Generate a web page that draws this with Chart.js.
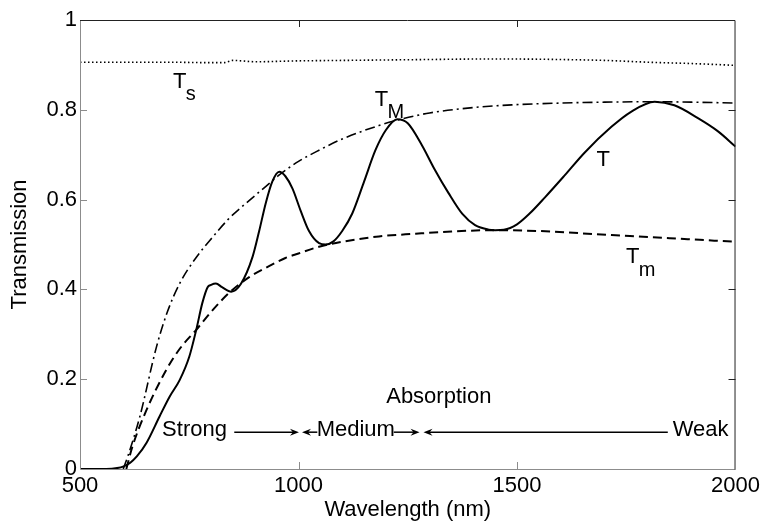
<!DOCTYPE html>
<html>
<head>
<meta charset="utf-8">
<script src="https://cdn.jsdelivr.net/npm/chart.js@4/dist/chart.umd.min.js"></script>
<style>
  html, body { margin: 0; padding: 0; background: #fff; }
  #wrap { width: 764px; height: 523px; }
</style>
</head>
<body>
<div id="wrap"><canvas id="myChart" width="764" height="523"></canvas></div>
<script>
// measured transmission T
var tWl = [500, 560, 585, 600, 615, 630, 652, 682, 705, 728, 750, 766, 780, 792, 800, 811, 825, 846, 868, 895, 910, 925, 940, 956, 970, 986, 1005, 1024, 1047, 1062, 1080, 1100, 1123, 1150, 1176, 1200, 1226, 1250, 1283, 1310, 1343, 1375, 1404, 1435, 1450, 1470, 1500, 1530, 1564, 1610, 1655, 1716, 1760, 1815, 1860, 1913, 1960, 2000];
var tVal = [0, 0, 0.002, 0.006, 0.014, 0.028, 0.058, 0.117, 0.161, 0.198, 0.25, 0.31, 0.37, 0.405, 0.41, 0.413, 0.405, 0.395, 0.412, 0.473, 0.53, 0.592, 0.64, 0.662, 0.652, 0.625, 0.575, 0.53, 0.503, 0.5, 0.507, 0.53, 0.569, 0.64, 0.71, 0.755, 0.779, 0.77, 0.72, 0.67, 0.615, 0.568, 0.543, 0.533, 0.532, 0.533, 0.545, 0.57, 0.605, 0.655, 0.705, 0.762, 0.795, 0.818, 0.81, 0.782, 0.752, 0.718];

// upper envelope T_M
var tMaxWl = [599, 610, 637, 675, 700, 728, 765, 804, 840, 880, 920, 956, 1000, 1047, 1100, 1184, 1230, 1300, 1400, 1488, 1600, 1700, 1815, 1900, 2000];
var tMaxVal = [0, 0.03, 0.117, 0.272, 0.35, 0.413, 0.47, 0.517, 0.557, 0.592, 0.625, 0.655, 0.685, 0.71, 0.735, 0.765, 0.778, 0.793, 0.805, 0.811, 0.815, 0.817, 0.818, 0.817, 0.815];

// lower envelope T_m
var tMinWl = [606, 620, 652, 697, 730, 766, 800, 842, 888, 925, 970, 1000, 1047, 1100, 1184, 1268, 1350, 1450, 1550, 1716, 1850, 2000];
var tMinVal = [0, 0.05, 0.131, 0.22, 0.27, 0.31, 0.35, 0.393, 0.428, 0.448, 0.47, 0.48, 0.495, 0.506, 0.518, 0.524, 0.529, 0.532, 0.53, 0.521, 0.514, 0.506];

// substrate T_s
var tsWl = [500, 600, 700, 800, 830, 850, 870, 900, 1000, 1100, 1200, 1300, 1400, 1500, 1600, 1700, 1800, 1900, 2000];
var tsVal = [0.906, 0.906, 0.906, 0.905, 0.905, 0.91, 0.909, 0.907, 0.909, 0.91, 0.911, 0.912, 0.913, 0.913, 0.912, 0.91, 0.906, 0.903, 0.899];

var xTicks = [500, 1000, 1500, 2000];
var yTicks = [0, 0.2, 0.4, 0.6, 0.8, 1];

// curve labels: [main, subscript, x, y]
var curveLabels = [
  ['T', 's', 728, 0.862],
  ['T', 'M', 1190, 0.822],
  ['T', '', 1697, 0.688],
  ['T', 'm', 1765, 0.472]
];
// absorption region labels
var regionLabels = [
  ['Absorption', 1321, 0.160],
  ['Strong', 762, 0.087],
  ['Medium', 1131, 0.087],
  ['Weak', 1920, 0.087]
];
var arrowY = 0.082;
// [from, to] : arrow head sits at "to"
var arrows = [[853, 1001], [1043, 1008], [1218, 1277], [1845, 1286]];

function pts(xs, ys) {
  return xs.map(function (x, i) { return {x: x, y: ys[i]}; });
}

var FONT = '"Liberation Sans", Arial, sans-serif';

var framePlugin = {
  id: 'frame',
  afterDatasetsDraw: function (chart) {
    var ctx = chart.ctx, a = chart.chartArea;
    var xs = chart.scales.x, ys = chart.scales.y;
    ctx.save();
    ctx.lineWidth = 1;
    // left / bottom grey, top / right dark
    ctx.strokeStyle = '#8c8c8c';
    ctx.beginPath();
    ctx.moveTo(a.left + 0.5, a.top); ctx.lineTo(a.left + 0.5, a.bottom + 0.5);
    ctx.lineTo(a.right, a.bottom + 0.5);
    ctx.stroke();
    ctx.strokeStyle = '#222';
    ctx.beginPath();
    ctx.moveTo(a.left, a.top + 0.5); ctx.lineTo(a.right - 0.5, a.top + 0.5);
    ctx.lineTo(a.right - 0.5, a.bottom + 0.5);
    ctx.stroke();
    // inward ticks
    var tl = 7;
    xTicks.slice(1, -1).forEach(function (v) {
      var px = Math.round(xs.getPixelForValue(v)) + 0.5;
      ctx.strokeStyle = '#8c8c8c';
      ctx.beginPath(); ctx.moveTo(px, a.bottom); ctx.lineTo(px, a.bottom - tl); ctx.stroke();
      ctx.strokeStyle = '#222';
      ctx.beginPath(); ctx.moveTo(px, a.top); ctx.lineTo(px, a.top + tl); ctx.stroke();
    });
    yTicks.slice(1, -1).forEach(function (v) {
      var py = Math.round(ys.getPixelForValue(v)) + 0.5;
      ctx.strokeStyle = '#8c8c8c';
      ctx.beginPath(); ctx.moveTo(a.left, py); ctx.lineTo(a.left + tl, py); ctx.stroke();
      ctx.strokeStyle = '#222';
      ctx.beginPath(); ctx.moveTo(a.right, py); ctx.lineTo(a.right - tl, py); ctx.stroke();
    });

    // labels
    ctx.fillStyle = '#000';
    ctx.textBaseline = 'middle';
    curveLabels.forEach(function (l) {
      var px = xs.getPixelForValue(l[2]), py = ys.getPixelForValue(l[3]);
      ctx.font = '22px ' + FONT;
      ctx.textAlign = 'center';
      ctx.fillText(l[0], px, py);
      if (l[1]) {
        ctx.font = '20px ' + FONT;
        ctx.textAlign = 'left';
        ctx.fillText(l[1], px + 6, py + 13);
      }
    });
    ctx.font = '22px ' + FONT;
    ctx.textAlign = 'center';
    regionLabels.forEach(function (l) {
      ctx.fillText(l[0], xs.getPixelForValue(l[1]), ys.getPixelForValue(l[2]));
    });

    // arrows
    ctx.strokeStyle = '#000';
    ctx.fillStyle = '#000';
    ctx.lineWidth = 1.5;
    var ay = ys.getPixelForValue(arrowY);
    arrows.forEach(function (ar) {
      var x0 = xs.getPixelForValue(ar[0]), x1 = xs.getPixelForValue(ar[1]);
      var dir = x1 > x0 ? 1 : -1;
      ctx.beginPath(); ctx.moveTo(x0, ay); ctx.lineTo(x1 - dir * 4, ay); ctx.stroke();
      ctx.beginPath();
      ctx.moveTo(x1, ay);
      ctx.lineTo(x1 - dir * 9, ay - 3.5);
      ctx.lineTo(x1 - dir * 6, ay);
      ctx.lineTo(x1 - dir * 9, ay + 3.5);
      ctx.closePath();
      ctx.fill();
    });
    ctx.restore();
  }
};

function loadChart() {
  var ctx = document.getElementById('myChart').getContext('2d');
  var base = {
    borderColor: '#000',
    pointRadius: 0,
    fill: false,
    cubicInterpolationMode: 'monotone'
  };
  new Chart(ctx, {
    type: 'line',
    data: {
      datasets: [
        Object.assign({label: 'Ts', data: pts(tsWl, tsVal), borderWidth: 1.6, borderDash: [1.5, 2.5]}, base),
        Object.assign({label: 'TM', data: pts(tMaxWl, tMaxVal), borderWidth: 1.6, borderDash: [10, 4, 2, 4]}, base),
        Object.assign({label: 'Tm', data: pts(tMinWl, tMinVal), borderWidth: 2, borderDash: [9, 5]}, base),
        Object.assign({label: 'T', data: pts(tWl, tVal), borderWidth: 2}, base)
      ]
    },
    options: {
      responsive: false,
      animation: false,
      layout: { padding: { top: 20, right: 26, left: 0, bottom: 0 } },
      plugins: { legend: { display: false }, tooltip: { enabled: false } },
      scales: {
        x: {
          type: 'linear',
          min: 500, max: 2000,
          afterBuildTicks: function (s) { s.ticks = xTicks.map(function (v) { return {value: v}; }); },
          afterFit: function (s) { s.height = 54; },
          grid: { drawOnChartArea: false, drawTicks: false },
          border: { display: false },
          ticks: {
            color: '#000', padding: 4, maxRotation: 0,
            font: { family: FONT, size: 22 },
            callback: function (v) { return String(v); }
          },
          title: {
            display: true, text: 'Wavelength (nm)', color: '#000',
            font: { family: FONT, size: 22 }, padding: { top: 0, bottom: 0 }
          }
        },
        y: {
          min: 0, max: 1,
          afterBuildTicks: function (s) { s.ticks = yTicks.map(function (v) { return {value: v}; }); },
          afterFit: function (s) { s.width = 80; },
          grid: { drawOnChartArea: false, drawTicks: false },
          border: { display: false },
          ticks: {
            color: '#000', padding: 3,
            font: { family: FONT, size: 22 },
            callback: function (v) { return String(v); }
          },
          title: {
            display: true, text: 'Transmission', color: '#000',
            font: { family: FONT, size: 22 }, padding: { top: 7, bottom: 0 }
          }
        }
      }
    },
    plugins: [framePlugin]
  });
}
loadChart();
</script>
</body>
</html>
